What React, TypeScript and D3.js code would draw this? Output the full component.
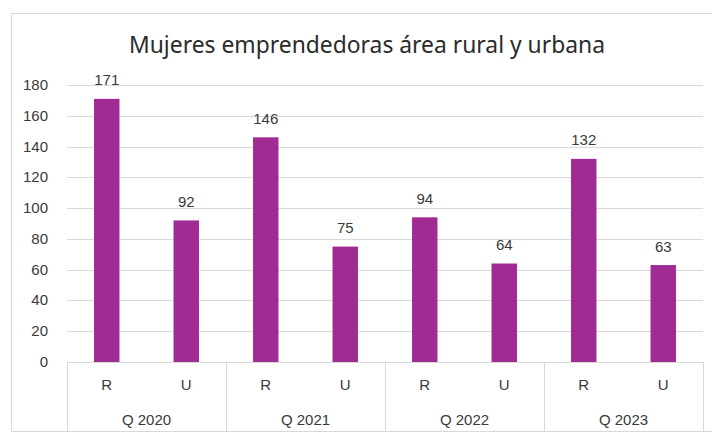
import React, { useRef, useEffect } from 'react';
import * as d3 from 'd3';

const years = ['Q 2020', 'Q 2021', 'Q 2022', 'Q 2023'];
const zones = ['R', 'U'];
const rural = [171, 146, 94, 132];
const urbana = [92, 75, 64, 63];
const yTicks = [0, 20, 40, 60, 80, 100, 120, 140, 160, 180];

const title = 'Mujeres emprendedoras área rural y urbana';

const App = () => {
  const svgRef = useRef(null);

  useEffect(() => {
    const w = 712;
    const h = 435;
    const left = 67;
    const right = 703;
    const top = 85;
    const bottom = 362;
    const textColor = '#3a3a3a';
    const gridColor = '#d9d9d9';
    const barColor = '#a02b93';
    const font = '"Liberation Sans", Arial, sans-serif';

    const svg = d3.select(svgRef.current).attr('width', w).attr('height', h);
    svg.selectAll('*').remove();

    // outer chart border (cropped on right/bottom)
    svg
      .append('rect')
      .attr('x', 11.5)
      .attr('y', 13.5)
      .attr('width', 720)
      .attr('height', 418)
      .attr('fill', '#fff')
      .attr('stroke', gridColor);

    svg
      .append('text')
      .attr('x', 367)
      .attr('y', 53)
      .attr('text-anchor', 'middle')
      .attr('font-family', '"Noto Sans", sans-serif')
      .attr('font-size', 24)
      .attr('fill', '#2b2b2b')
      .attr('textLength', 476)
      .attr('lengthAdjust', 'spacingAndGlyphs')
      .text(title);

    const yScale = d3.scaleLinear().domain([0, 180]).range([bottom, top]);
    const xGroup = d3.scaleBand().domain(years).range([left, right]);
    const xZone = d3
      .scaleBand()
      .domain(zones)
      .range([0, xGroup.bandwidth()])
      .paddingInner(0.68)
      .paddingOuter(0.34);

    // gridlines + y labels
    svg
      .append('g')
      .selectAll('line')
      .data(yTicks.filter((t) => t > 0))
      .join('line')
      .attr('x1', left)
      .attr('x2', right)
      .attr('y1', (t) => Math.round(yScale(t)) + 0.5)
      .attr('y2', (t) => Math.round(yScale(t)) + 0.5)
      .attr('stroke', gridColor);

    svg
      .append('g')
      .selectAll('text')
      .data(yTicks)
      .join('text')
      .attr('x', 48)
      .attr('y', (t) => yScale(t) + 5)
      .attr('text-anchor', 'end')
      .attr('font-family', font)
      .attr('font-size', 15)
      .attr('fill', textColor)
      .text((t) => t);

    const rows = years.flatMap((year, i) => [
      { year, zone: 'R', value: rural[i] },
      { year, zone: 'U', value: urbana[i] },
    ]);

    const bars = svg.append('g');
    bars
      .selectAll('rect')
      .data(rows)
      .join('rect')
      .attr('x', (d) => xGroup(d.year) + xZone(d.zone))
      .attr('y', (d) => yScale(d.value))
      .attr('width', xZone.bandwidth())
      .attr('height', (d) => bottom - yScale(d.value))
      .attr('fill', barColor);

    bars
      .selectAll('text.val')
      .data(rows)
      .join('text')
      .attr('class', 'val')
      .attr('x', (d) => xGroup(d.year) + xZone(d.zone) + xZone.bandwidth() / 2)
      .attr('y', (d) => yScale(d.value) - 13.5)
      .attr('text-anchor', 'middle')
      .attr('font-family', font)
      .attr('font-size', 15)
      .attr('fill', textColor)
      .text((d) => d.value);

    // category axis
    svg
      .append('line')
      .attr('x1', left)
      .attr('x2', right)
      .attr('y1', bottom + 0.5)
      .attr('y2', bottom + 0.5)
      .attr('stroke', gridColor);

    svg
      .append('g')
      .selectAll('line')
      .data([...years.map((y) => xGroup(y)), right])
      .join('line')
      .attr('x1', (x) => Math.round(x) + 0.5)
      .attr('x2', (x) => Math.round(x) + 0.5)
      .attr('y1', bottom)
      .attr('y2', 431)
      .attr('stroke', gridColor);

    svg
      .append('g')
      .selectAll('text')
      .data(rows)
      .join('text')
      .attr('x', (d) => xGroup(d.year) + xZone(d.zone) + xZone.bandwidth() / 2)
      .attr('y', 390)
      .attr('text-anchor', 'middle')
      .attr('font-family', font)
      .attr('font-size', 15)
      .attr('fill', textColor)
      .text((d) => d.zone);

    svg
      .append('g')
      .selectAll('text')
      .data(years)
      .join('text')
      .attr('x', (y) => xGroup(y) + xGroup.bandwidth() / 2)
      .attr('y', 425)
      .attr('text-anchor', 'middle')
      .attr('font-family', font)
      .attr('font-size', 15)
      .attr('fill', textColor)
      .text((y) => y);
  }, []);

  return (
    <div style={{ position: 'absolute', left: 0, top: 0 }}>
      <svg ref={svgRef} style={{ display: 'block' }}></svg>
    </div>
  );
};

export default App;
